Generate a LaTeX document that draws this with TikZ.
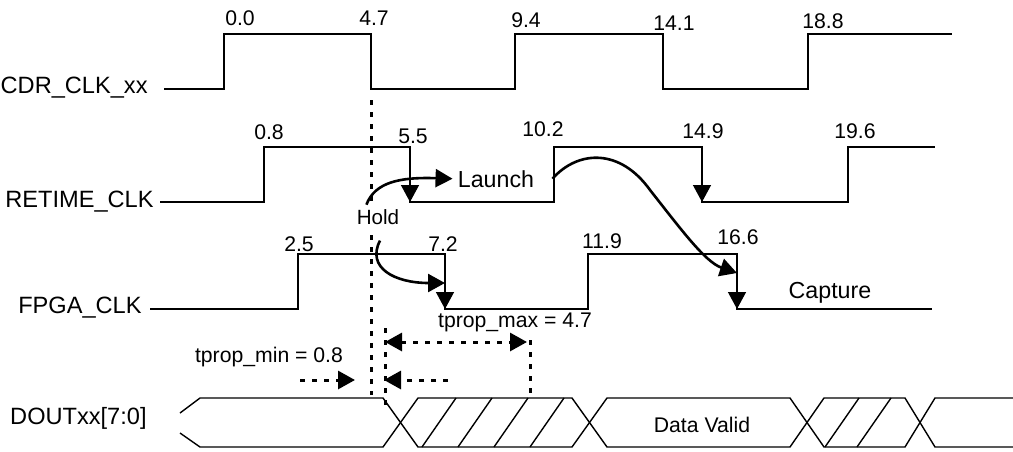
\documentclass[tikz,border=0pt]{standalone}
\usepackage{fontspec}
\setmainfont{Liberation Sans}
\usetikzlibrary{arrows.meta}

\tikzset{
	wave/.style={line width=0.7pt},
	head/.style={-{Triangle[length=8.5pt,width=9pt]}},
	twohead/.style={{Triangle[length=8.5pt,width=9pt]}-{Triangle[length=8.5pt,width=9pt]}},
	swing/.style={line width=1.3pt,head},
	guide/.style={line width=1.5pt,dash pattern=on 2.6pt off 3.4pt},
	sig/.style={font=\fontsize{11.8}{14}\selectfont,anchor=base east},
	num/.style={font=\fontsize{10.6}{12}\selectfont},
	txt/.style={font=\fontsize{11.6}{14}\selectfont},
	small/.style={font=\fontsize{10.6}{13}\selectfont},
}

\begin{document}
\begin{tikzpicture}[x=0.5pt,y=-0.5pt,every node/.style={inner sep=0pt,anchor=base}]
	\useasboundingbox (0,0) rectangle (1013,451);

	% signal names
	\node[sig] (cdr) at (148,93) {CDR\_CLK\_xx};
	\node[sig] (retime) at (154,207) {RETIME\_CLK};
	\node[sig] (fpga) at (142,313) {FPGA\_CLK};
	\node[sig] (dout) at (147,424) {DOUTxx[7:0]};

	% clocks
	\draw[wave] (164,89) -| (224,34) -| (371,89) -| (515,34) -| (663,89) -| (808,34) -- (952,34);
	\draw[wave] (160,202) -| (264,147) -| (410,202) -| (554,147) -| (702,202) -| (848,147) -- (935,147);
	\draw[wave] (150,309) -| (298,254) -| (445,309) -| (588,254) -| (737,309) -- (932,309);

	\foreach \t/\x/\y [count=\i] in {0.0/240/25, 4.7/374/25, 9.4/526/27, 14.1/674/30, 18.8/823/28}
		\node[num] (c\i) at (\x,\y) {\t};
	\foreach \t/\x/\y [count=\i] in {0.8/269/139, 5.5/413/143, 10.2/543/136, 14.9/703/138, 19.6/855/138}
		\node[num] (r\i) at (\x,\y) {\t};
	\foreach \t/\x/\y [count=\i] in {2.5/299/251, 7.2/443/251, 11.9/602/248, 16.6/738/244}
		\node[num] (f\i) at (\x,\y) {\t};

	% active edges
	\draw[wave,head] (410,180) -- (410,202);
	\draw[wave,head] (702,180) -- (702,202);
	\draw[wave,head] (445,287) -- (445,309);
	\draw[wave,head] (737,287) -- (737,309);

	% guides
	\draw[guide] (371,100) -- (371,203);
	\draw[guide] (371,235) -- (371,395);
	\draw[guide] (385,328) -- (385,408);
	\draw[guide] (530,340) -- (530,395);

	\node[txt] (launch) at (496,187) {Launch};
	\node[txt] (capture) at (830,298) {Capture};
	\node[font=\fontsize{10.3}{12}\selectfont] (hold) at (378,224) {Hold};
	\node[small] (pmin) at (269,362) {tprop\_min = 0.8};
	\node[small] (pmax) at (515,327) {tprop\_max = 4.7};

	\coordinate (e72) at (445,283);
	\coordinate (e166) at (737,273);
	\draw[swing] ([xshift=5pt,yshift=2pt]hold.north west) .. controls (375,182) and (400,177) .. ([xshift=-2.5pt]launch.west);
	\draw[swing] ([xshift=1pt,yshift=-8pt]hold.south) .. controls (366,268) and (395,283) .. (e72);
	\draw[swing] ([xshift=9pt]launch.east) .. controls (578,150) and (620,148) .. (650,190)
		.. controls (680,228) and (705,262) .. (e166);

	% propagation limits
	\coordinate (maxl) at (385,342);
	\coordinate (maxr) at (527,342);
	\coordinate (minl) at (300,380);
	\coordinate (minr) at (355,380);
	\coordinate (min2r) at (448,380);
	\coordinate (min2l) at (384,380);
	\draw[guide,twohead] (maxl) -- (maxr);
	\draw[guide,head] (minl) -- (minr);
	\draw[guide,head] (min2r) -- (min2l);

	% data bus
	\draw[wave] (180,413) -- (200,398) -- (383,398) -- (418,447) -- (572,447) -- (607,398) -- (790,398)
		-- (824,447) -- (905,447) -- (935,398) -- (1013,398);
	\draw[wave] (180,433) -- (200,447) -- (383,447) -- (418,398) -- (572,398) -- (607,447) -- (790,447)
		-- (824,398) -- (905,398) -- (935,447) -- (1013,447);
	\foreach \b in {422,458,494,530,825,857}
		\draw[wave] (\b,447) -- ++(34,-49);
	\node[small] (valid) at (702,432) {Data Valid};
\end{tikzpicture}
\end{document}
